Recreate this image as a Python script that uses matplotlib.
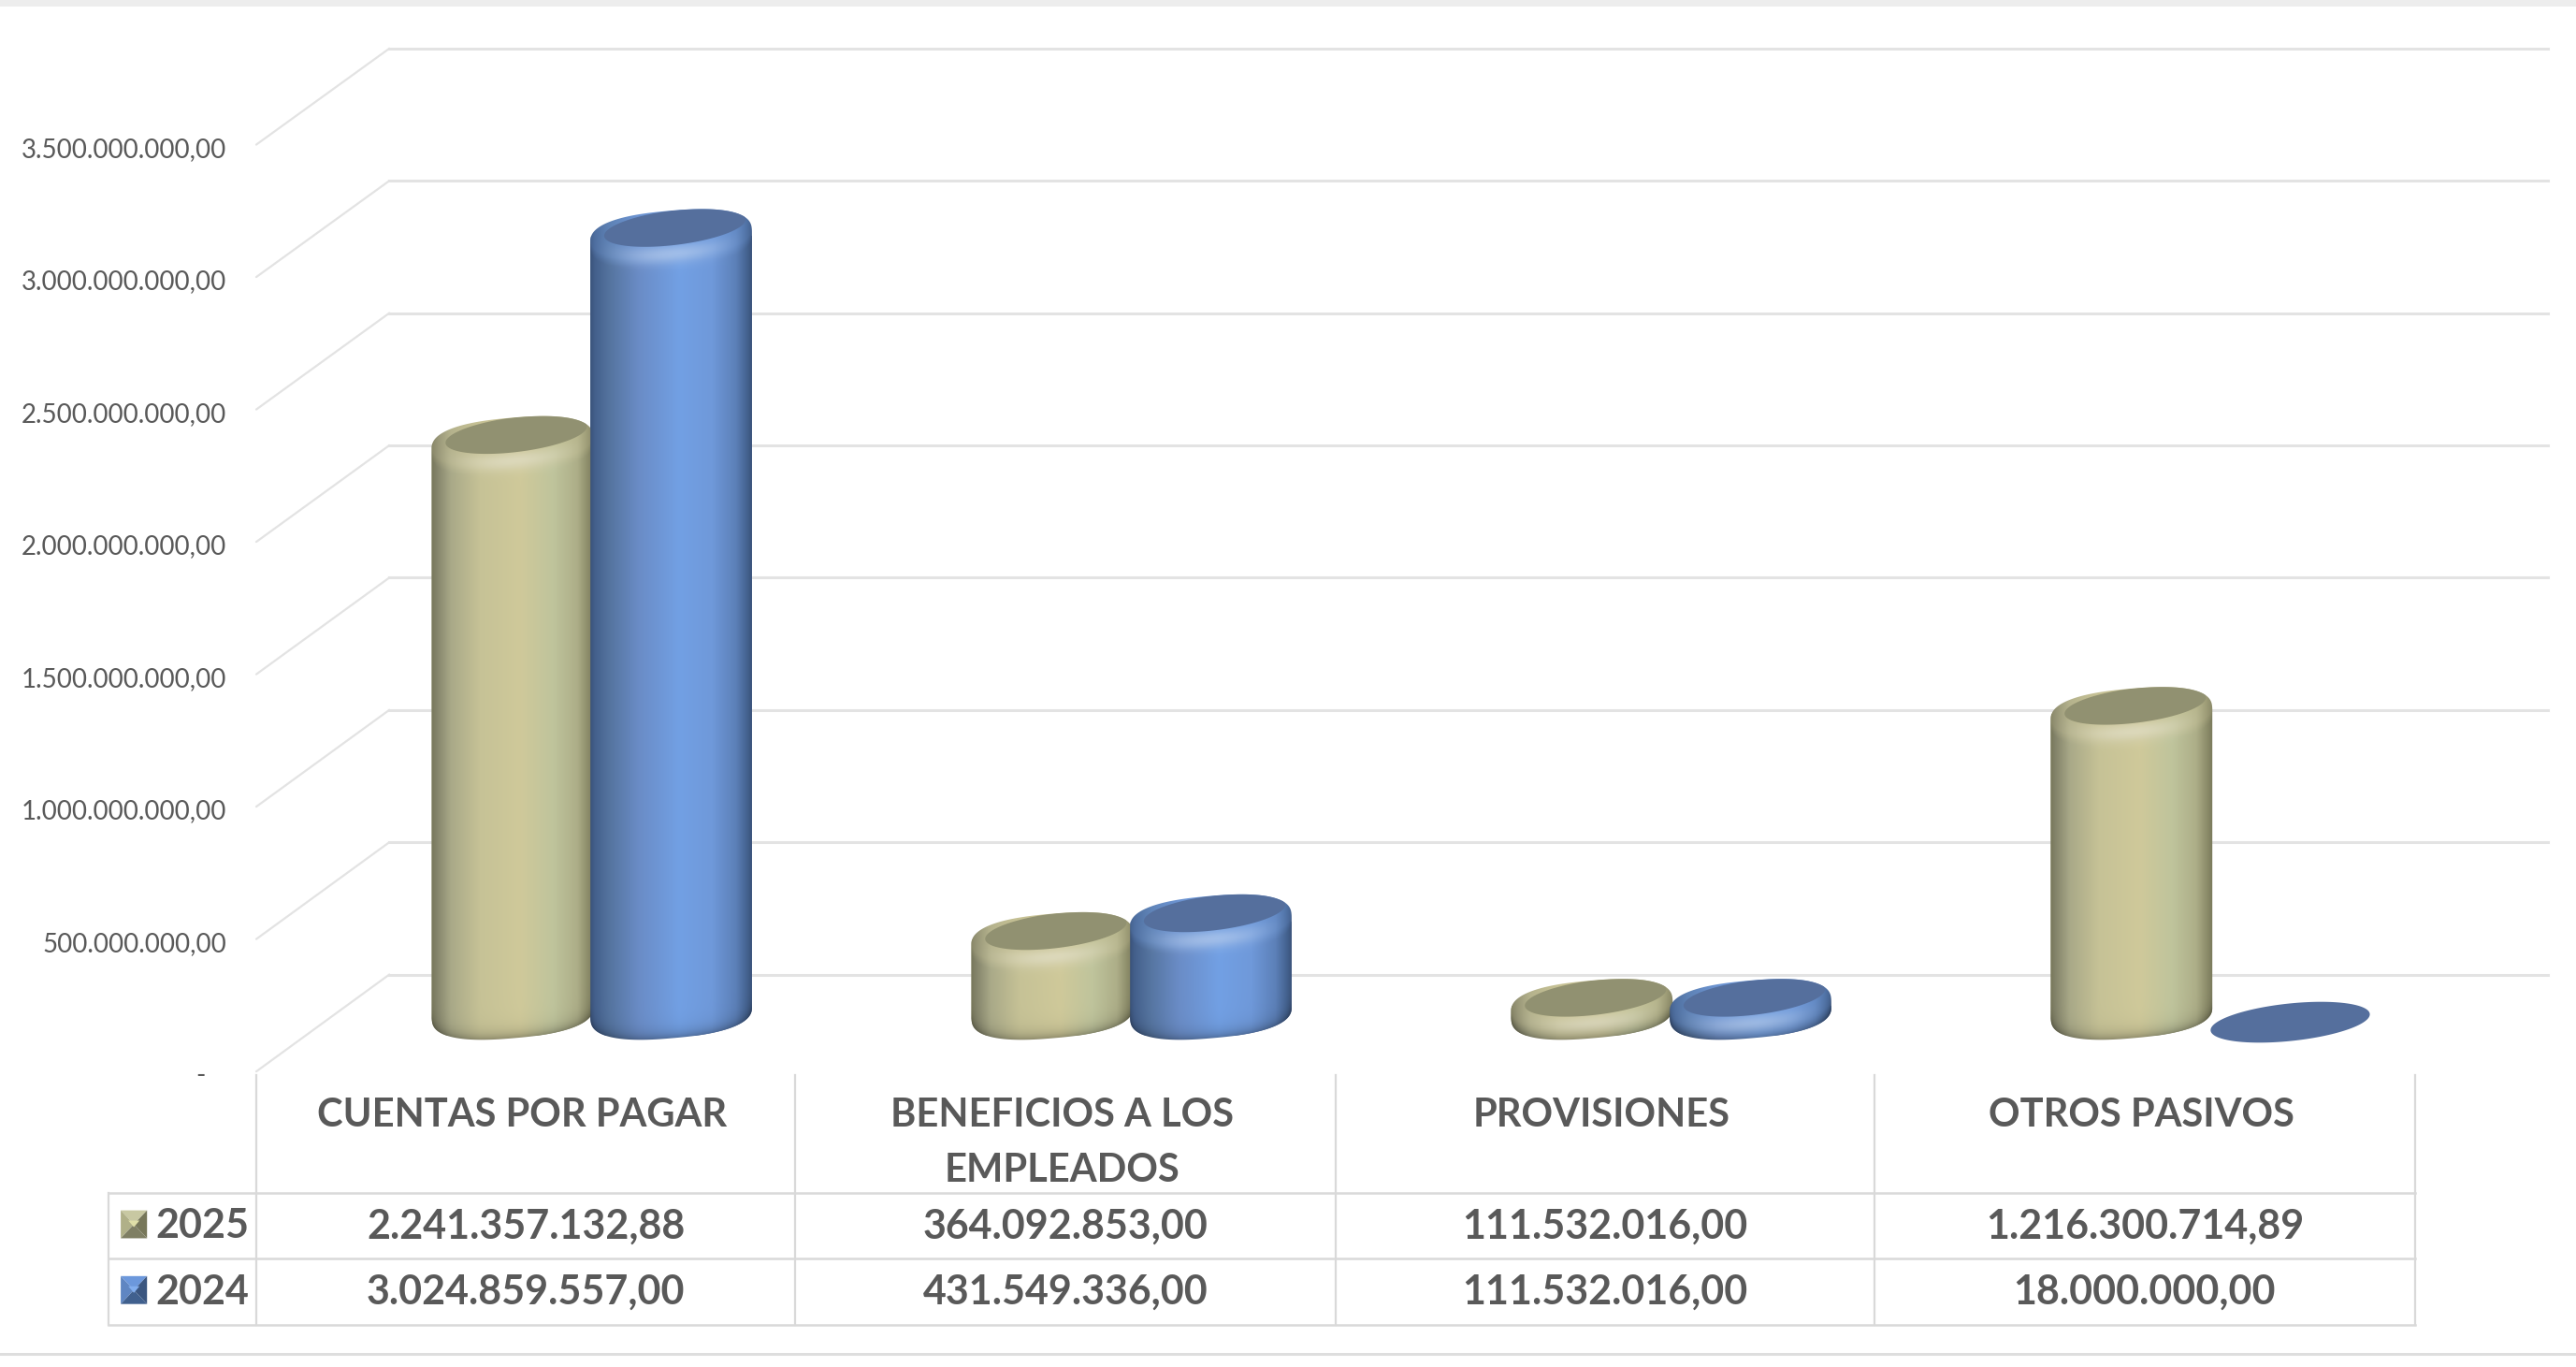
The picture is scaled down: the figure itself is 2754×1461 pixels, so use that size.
import matplotlib
matplotlib.use("Agg")
import matplotlib.pyplot as plt
import numpy as np
from matplotlib.patches import ConnectionPatch, PathPatch, Polygon
from matplotlib.path import Path
from matplotlib.transforms import ScaledTranslation

# chart data
categories = ["CUENTAS POR PAGAR", "BENEFICIOS A LOS\nEMPLEADOS", "PROVISIONES", "OTROS PASIVOS"]
years = ["2025", "2024"]
values_2025 = [2241357132.88, 364092853.00, 111532016.00, 1216300714.89]
values_2024 = [3024859557.00, 431549336.00, 111532016.00, 18000000.00]
y_ticks = [0, 500e6, 1000e6, 1500e6, 2000e6, 2500e6, 3000e6, 3500e6]

W, H = 2754, 1461
S = W / 1568  # coordinates below were read on the 1568 wide view
GREY_TEXT = "#595959"
LINE = "#E3E3E3"
TABLE = "#D9D9D9"

# colour stops across a cylinder, left to right
STOPS = [0, 0.03, 0.12, 0.3, 0.55, 0.75, 0.9, 0.97, 1]
TAN = ["#77775A", "#83836A", "#A9A988", "#C6C296", "#CFC99A", "#BFC49C", "#ADAE88", "#8A8A68", "#7A7A5C"]
BLUE = ["#3A5279", "#44608C", "#55749F", "#6A8CC6", "#72A0E4", "#6F99DA", "#5C80B8", "#44628F", "#3A5279"]
TOP_TAN = "#919171"
TOP_BLUE = "#556F9D"


def to_rgb(c):
    return np.array(matplotlib.colors.to_rgb(c))


def new_axes(left, top, right, bottom):
    # position given in 1568 wide coordinates, y going down
    ax = fig.add_axes([left * S / W, 1 - bottom * S / H, (right - left) * S / W, (bottom - top) * S / H])
    ax.patch.set_alpha(0)
    for sp in ax.spines.values():
        sp.set_visible(False)
    return ax


def ellipse_points(cx, cy, a, b, deg, power=2.5, n=240):
    # slightly squared ellipse, the bevelled cylinders have full shoulders
    t = np.linspace(0, 2 * np.pi, n, endpoint=False)
    th = np.radians(deg)
    c = np.sign(np.cos(t)) * np.abs(np.cos(t)) ** (2 / power)
    s = np.sign(np.sin(t)) * np.abs(np.sin(t)) ** (2 / power)
    x = cx + a * c * np.cos(th) + b * s * np.sin(th)
    y = cy - a * c * np.sin(th) + b * s * np.cos(th)
    return x, y


def silhouette(cx, y_top, y_bot, a, b, deg):
    xt, yt = ellipse_points(cx, y_top, a, b, deg)
    xb, yb = ellipse_points(cx, y_bot, a, b, deg)
    i_r, i_l = np.argmax(xt), np.argmin(xt)
    n = len(xt)
    # ellipse runs right -> bottom -> left -> top
    idx_low = np.arange(i_r, i_l + 1 if i_l > i_r else i_l + n + 1) % n
    idx_up = np.arange(i_l, i_r + 1 if i_r > i_l else i_r + n + 1) % n
    pts = np.vstack([np.c_[xt[idx_up], yt[idx_up]], np.c_[xb[idx_low], yb[idx_low]]])
    return Path(np.vstack([pts, pts[0]]), closed=True)


def lower_edge(xx, cx, cy, a, b, deg):
    ex, ey = ellipse_points(cx, cy, a, b, deg, n=600)
    low = ey >= cy - (ex - cx) * np.tan(np.radians(deg))
    ex, ey = ex[low], ey[low]
    order = np.argsort(ex)
    return np.interp(xx, ex[order], ey[order])


def draw_cylinder(bar, cols, top_col, zero_y):
    inv = ax_px.transData.inverted()
    x0, y_top = inv.transform(ax_bars.transData.transform((bar.get_x(), bar.get_height())))
    x1, _ = inv.transform(ax_bars.transData.transform((bar.get_x() + bar.get_width(), 0)))
    cx = (x0 + x1) / 2
    a = (x1 - x0) / 2
    b = 27.0
    deg = 5
    y_bot = zero_y - 24

    # nearly empty bars are only a flat disc
    if y_top > y_bot:
        y_top = min(y_top, zero_y - 14)
        dx, dy = ellipse_points(cx, y_top, a - 1, 20, 6, power=2)
        ax_px.add_patch(Polygon(np.c_[dx, dy], closed=True, fc=top_col, ec="none", zorder=5))
        bar.set_visible(False)
        return

    path = silhouette(cx, y_top, y_bot, a, b, deg)
    bar.set_clip_path(path, ax_px.transData)

    # body shading, one sample per output pixel
    bx0, bx1 = int(x0) - 2, int(x1) + 3
    by0, by1 = int(y_top - b) - 12, int(y_bot + b) + 12
    xx = np.arange(bx0, bx1) + 0.5
    yy = np.arange(by0, by1) + 0.5
    u = np.clip((xx - x0) / (x1 - x0), 0, 1)
    rgb_stops = np.array([to_rgb(c) for c in cols])
    row = np.stack([np.interp(u, STOPS, rgb_stops[:, i]) for i in range(3)], axis=1)
    img = np.repeat(row[None, :, :], len(yy), axis=0)

    rim = lower_edge(xx, cx, y_top, a, b, deg)
    floor = lower_edge(xx, cx, y_bot, a, b, deg)
    d_top = yy[:, None] - rim[None, :]
    d_bot = floor[None, :] - yy[:, None]
    middle = (1 - (2 * u - 1) ** 2)[None, :]

    # bevel round the top is lighter and smoother than the body
    bevel = np.clip((6 - d_top) / 10.0, 0, 1) * 0.6 * (0.35 + 0.65 * middle)
    mid = rgb_stops[4] * 0.96
    img = img * (1 - bevel[:, :, None]) + mid * bevel[:, :, None]
    glow = 0.34 * np.exp(-((d_top + 8) / 10.0) ** 2) * middle ** 2
    dark = 0.3 * np.exp(-np.clip(d_bot, 0, None) / 7.0)
    img = img + (1 - img) * glow[:, :, None]
    img = img * (1 - dark[:, :, None])

    im = ax_px.imshow(img, extent=(bx0, bx1, by1, by0), aspect="auto", interpolation="bilinear", zorder=5)
    clip = PathPatch(path, transform=ax_px.transData, fc="none", ec="none")
    ax_px.add_patch(clip)
    im.set_clip_path(clip)

    # flat top of the cylinder, cut by the outline
    tx, ty = ellipse_points(cx + 4, y_top - 9, a * 0.88, 18.5, 7, power=2)
    top = Polygon(np.c_[tx, ty], closed=True, fc=top_col, ec="none", zorder=6)
    ax_px.add_patch(top)
    top.set_clip_path(clip)


def money(v):
    return f"{v:,.2f}".replace(",", "#").replace(".", ",").replace("#", ".")


plt.rcParams["font.family"] = ["Lato", "DejaVu Sans"]
fig = plt.figure(figsize=(W / 100, H / 100), dpi=100, facecolor="white")

# back wall with the gridlines
ax_wall = new_axes(237, 29.5, 1551, 593)
ax_wall.set_xlim(0, 1)
ax_wall.set_ylim(y_ticks[0], y_ticks[-1])
ax_wall.set_xticks([])
ax_wall.set_yticks(y_ticks)
ax_wall.tick_params(left=False, labelleft=False)
ax_wall.grid(axis="y", color=LINE, lw=2.2)
for gl in ax_wall.get_ygridlines():
    gl.set_clip_on(False)

# front edge, carries the value labels
ax_front = new_axes(156, 88, 1470, 652)
ax_front.set_xlim(0, 1)
ax_front.set_ylim(y_ticks[0], y_ticks[-1])
ax_front.set_xticks([])
ax_front.set_yticks(y_ticks)
ax_front.set_yticklabels(["-   "] + [money(v) for v in y_ticks[1:]], fontsize=20, color=GREY_TEXT)
ax_front.tick_params(axis="y", length=0, pad=23)
shift = ScaledTranslation(0, -2.5 / 100, fig.dpi_scale_trans)
for lab in ax_front.get_yticklabels():
    lab.set_transform(lab.get_transform() + shift)

for v in y_ticks:
    fig.add_artist(ConnectionPatch((0, v), (0, v), coordsA=ax_front.transData, coordsB=ax_wall.transData,
                                   color=LINE, lw=1.6))

# bars sit in a plane between the front edge and the wall
ax_bars = new_axes(196, 67.2, 1510, 630)
ax_bars.set_xlim(-0.5, 3.5)
ax_bars.set_ylim(y_ticks[0], y_ticks[-1])
ax_bars.set_xticks([])
ax_bars.set_yticks([])

# pixel layer on top for cylinder shading and the data table
ax_px = fig.add_axes([0, 0, 1, 1])
ax_px.patch.set_alpha(0)
ax_px.axis("off")
ax_px.set_xlim(0, W)
ax_px.set_ylim(H, 0)

x = np.arange(len(categories))
width = 0.30
step = 0.147
bars_2025 = ax_bars.bar(x - step, values_2025, width, color=TOP_TAN, lw=0)
bars_2024 = ax_bars.bar(x + step, values_2024, width, color=TOP_BLUE, lw=0)
zero_y = 630 * S
for b25, b24 in zip(bars_2025, bars_2024):
    draw_cylinder(b25, TAN, TOP_TAN, zero_y)
    draw_cylinder(b24, BLUE, TOP_BLUE, zero_y)
ax_px.set_xlim(0, W)
ax_px.set_ylim(H, 0)

# page edges
ax_px.fill_between([0, W], 0, 7, color="#EDEDED", lw=0)
ax_px.plot([0, W], [824 * S, 824 * S], color="#DEDEDE", lw=2.2)

# data table
col_x = [156, 484, 813, 1141, 1470]
row_y = [726, 766, 806]
for cx in col_x:
    ax_px.plot([cx * S, cx * S], [654 * S, 806 * S], color=TABLE, lw=1.6)
ax_px.plot([66 * S, 66 * S], [726 * S, 806 * S], color=TABLE, lw=1.6)
for ry in row_y:
    ax_px.plot([66 * S, 1470 * S], [ry * S, ry * S], color=TABLE, lw=1.8)

for i, cat in enumerate(categories):
    cx = (col_x[i] + col_x[i + 1]) / 2 * S
    ax_px.text(cx - 2 * S, 668 * S, cat, ha="center", va="top", fontsize=30, fontweight="bold", color=GREY_TEXT,
               linespacing=1.66)
    ax_px.text(cx, 746 * S, money(values_2025[i]), ha="center", va="center", fontsize=31, fontweight="bold", color=GREY_TEXT)
    ax_px.text(cx, 786 * S, money(values_2024[i]), ha="center", va="center", fontsize=31, fontweight="bold", color=GREY_TEXT)

# legend keys: top, left, right, bottom faces of a small pyramid
key_cols = [("#C8C8A2", "#B0B088", "#77775A", "#7F7F64", "#E0DFA8"),
            ("#6C98DC", "#5F86C2", "#3B5680", "#40608E", "#82AEEE")]
for yr, ry, (c_top, c_left, c_right, c_bot, c_mid) in zip(years, [745, 785], key_cols):
    ax_px.text(123 * S, (ry + 1) * S, yr, ha="center", va="center", fontsize=31, fontweight="bold", color=GREY_TEXT)
    l, r, t, bt = 73.5 * S, 89.5 * S, (ry - 8.5) * S, (ry + 8.5) * S
    mx, my = (l + r) / 2, (t + bt) / 2
    ax_px.add_patch(Polygon([(l, t), (r, t), (mx, my)], fc=c_top, ec="none"))
    ax_px.add_patch(Polygon([(l, t), (l, bt), (mx, my)], fc=c_left, ec="none"))
    ax_px.add_patch(Polygon([(r, t), (r, bt), (mx, my)], fc=c_right, ec="none"))
    ax_px.add_patch(Polygon([(l, bt), (r, bt), (mx, my)], fc=c_bot, ec="none"))
    ax_px.add_patch(Polygon([(mx - 6, my - 4), (mx + 6, my - 4), (mx, my + 3)], fc=c_mid, ec="none"))

fig.savefig("out.png", dpi=100)
